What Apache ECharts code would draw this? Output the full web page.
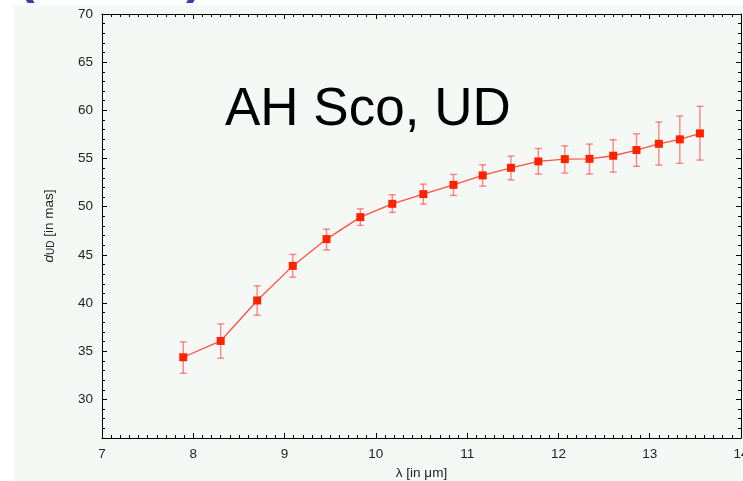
<!DOCTYPE html>
<html>
<head>
<meta charset="utf-8">
<script src="https://cdn.jsdelivr.net/npm/echarts@6/dist/echarts.min.js"></script>
<style>
html,body{margin:0;padding:0;background:#ffffff;}
#chart{width:743px;height:481px;}
</style>
</head>
<body>
<div id="chart"></div>
<script>
// Wavelength (micron)
var lambdaVals = [7.89, 8.30, 8.70, 9.09, 9.46, 9.83, 10.18, 10.52, 10.85, 11.17, 11.48, 11.78, 12.07, 12.34, 12.60, 12.855, 13.10, 13.33, 13.55];
// Uniform disk diameter (mas)
var dUD = [34.38, 36.07, 40.27, 43.86, 46.64, 48.92, 50.30, 51.31, 52.27, 53.25, 54.04, 54.70, 54.94, 54.97, 55.29, 55.88, 56.53, 56.99, 57.61];
// Error bar lower / upper ends
var errLow  = [32.72, 34.28, 38.74, 42.69, 45.52, 48.06, 49.41, 50.27, 51.17, 52.14, 52.79, 53.39, 53.49, 53.39, 53.59, 54.19, 54.32, 54.50, 54.84];
var errHigh = [35.97, 37.84, 41.79, 45.05, 47.67, 49.78, 51.24, 52.35, 53.35, 54.35, 55.25, 56.05, 56.32, 56.50, 56.95, 57.57, 58.79, 59.41, 60.42];
// Axis settings
var xMin = 7, xMax = 14;
var yMin = 26, yMax = 70;
var yMajorTicks = [30, 35, 40, 45, 50, 55, 60, 65, 70];
var titleText = 'AH Sco, UD';

var lineData = lambdaVals.map(function(x, i){ return [x, dUD[i]]; });
var errData = lambdaVals.map(function(x, i){ return [x, errLow[i], errHigh[i]]; });

var FONT = '"Liberation Sans", Arial, sans-serif';
var chart = echarts.init(document.getElementById('chart'), null, {renderer:'canvas'});

function yAxisBase(pos, major, showLabels){
  var a = {
    type: 'value', position: pos, min: yMin, max: yMax,
    axisLine: {show: major, lineStyle: {color: '#000', width: 1}},
    splitLine: {show: false},
    axisTick: {show: true, inside: true, length: major ? 5 : 3, lineStyle: {color: '#000', width: 1}},
    axisLabel: {show: false}
  };
  if (major) {
    a.axisTick.customValues = yMajorTicks;
    a.axisLabel = {show: showLabels, customValues: yMajorTicks, color: '#222', fontSize: 13.5, fontFamily: FONT, margin: 9};
  } else {
    a.interval = 1;
  }
  return a;
}

var yAxes = [
  yAxisBase('left', true, true),
  yAxisBase('left', false, false),
  yAxisBase('right', true, false),
  yAxisBase('right', false, false)
];
yAxes[0].name = '{i|d}{s|UD} [in mas]';
yAxes[0].nameLocation = 'middle';
yAxes[0].nameGap = 46;
yAxes[0].nameTextStyle = {
  color: '#222', fontSize: 13.5, fontFamily: FONT,
  rich: {
    i: {fontStyle: 'italic', fontSize: 13.5, fontFamily: FONT, color: '#222'},
    s: {fontSize: 10, fontFamily: FONT, color: '#222', verticalAlign: 'bottom', lineHeight: 12}
  }
};

function xAxisBase(pos, showLabels){
  return {
    type: 'value', position: pos, min: xMin, max: xMax, interval: 1,
    axisLine: {show: true, lineStyle: {color: '#000', width: 1}},
    splitLine: {show: false},
    axisTick: {show: true, inside: true, length: 5, lineStyle: {color: '#000', width: 1}},
    minorTick: {show: true, splitNumber: 10, length: 3, lineStyle: {color: '#000', width: 1}},
    minorSplitLine: {show: false},
    axisLabel: {show: showLabels, color: '#222', fontSize: 13.5, fontFamily: FONT, margin: 9}
  };
}
var xAxes = [xAxisBase('bottom', true), xAxisBase('top', false)];
xAxes[0].name = 'λ [in μm]';
xAxes[0].nameLocation = 'middle';
xAxes[0].nameGap = 27;
xAxes[0].nameTextStyle = {color: '#222', fontSize: 13.5, fontFamily: FONT};

var option = {
  backgroundColor: '#ffffff',
  animation: false,
  textStyle: {fontFamily: FONT},
  graphic: [
    {type: 'rect', z: -10, left: 14, top: 5, shape: {width: 729, height: 476}, style: {fill: '#f5f9f6'}},
    {type: 'text', z: 10, left: 18, top: -46, style: {text: '(', fontSize: 50, fontFamily: FONT, fontWeight: 'bold', fill: '#3a3fa8'}},
    {type: 'text', z: 10, left: 186, top: -46, style: {text: ')', fontSize: 50, fontFamily: FONT, fontWeight: 'bold', fill: '#3a3fa8'}}
  ],
  title: {
    text: titleText, left: 220, top: 79,
    textStyle: {fontSize: 53, fontWeight: 'normal', color: '#000', fontFamily: FONT}
  },
  grid: {left: 102, right: 2, top: 14, bottom: 43, containLabel: false, outerBoundsMode: 'none'},
  xAxis: xAxes,
  yAxis: yAxes,
  series: [
    {
      type: 'custom', xAxisIndex: 0, yAxisIndex: 0, z: 2,
      data: errData,
      renderItem: function(params, api){
        var x = api.value(0);
        var top = api.coord([x, api.value(2)]);
        var bot = api.coord([x, api.value(1)]);
        var w = 3.5;
        var st = {stroke: 'rgba(255,40,40,0.55)', lineWidth: 1.4};
        return {
          type: 'group',
          children: [
            {type: 'line', shape: {x1: top[0], y1: top[1], x2: bot[0], y2: bot[1]}, style: st},
            {type: 'line', shape: {x1: top[0]-w, y1: top[1], x2: top[0]+w, y2: top[1]}, style: st},
            {type: 'line', shape: {x1: bot[0]-w, y1: bot[1], x2: bot[0]+w, y2: bot[1]}, style: st}
          ]
        };
      }
    },
    {
      type: 'line', xAxisIndex: 0, yAxisIndex: 0, z: 3,
      data: lineData,
      symbol: 'rect', symbolSize: 8,
      lineStyle: {color: '#ff5040', width: 1.3},
      itemStyle: {color: '#ff2200', borderWidth: 0}
    }
  ]
};
chart.setOption(option);
</script>
</body>
</html>
